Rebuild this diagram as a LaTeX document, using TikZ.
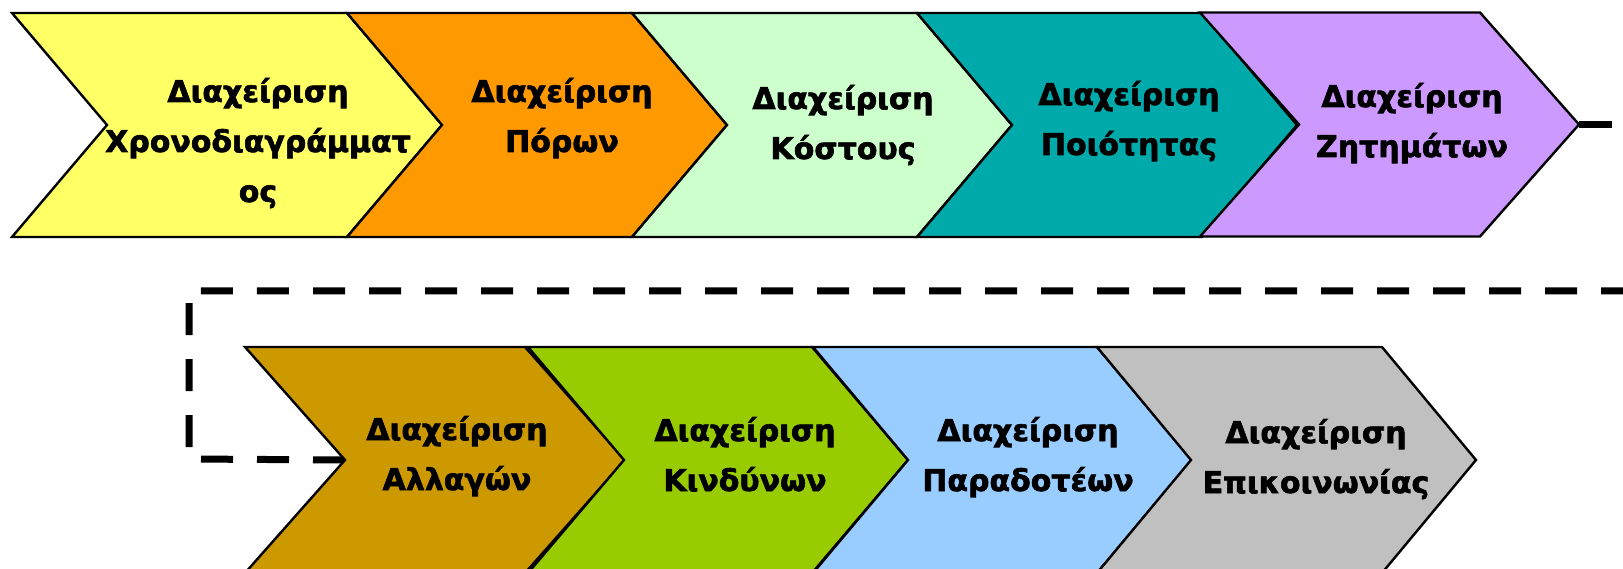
\documentclass[tikz,border=0pt]{standalone}
\usepackage{fontspec}
\usetikzlibrary{backgrounds}
\newfontfamily\chevfont{DejaVu Sans}[UprightFont=*-Bold,FakeBold=2]
\definecolor{cyellow}{HTML}{FFFF66}
\definecolor{corange}{HTML}{FF9900}
\definecolor{cmint}{HTML}{CCFFCC}
\definecolor{cteal}{HTML}{00AAAA}
\definecolor{cviolet}{HTML}{CC99FF}
\definecolor{cbrown}{HTML}{CC9900}
\definecolor{clime}{HTML}{99CC00}
\definecolor{csky}{HTML}{99CCFF}
\definecolor{cgray}{HTML}{C0C0C0}
% #1 name, #2 colour, #3 left, #4 right, #5 top, #6 bottom, #7 depth
\newcommand\mychev[7]{%
  \path[chevshape,fill=#2] (#3,#5) -- (#4,#5)
    -- ({#4+#7},{(#5+#6)/2}) coordinate (#1-tip)
    -- (#4,#6) -- (#3,#6)
    -- ({#3+#7},{(#5+#6)/2}) coordinate (#1-notch) -- cycle;}
\begin{document}
\begin{tikzpicture}[x=1pt,y=-1pt,
  chevshape/.style={draw=black,line width=2.4pt,line join=miter},
  lbl/.style={font=\chevfont\fontsize{30}{50}\selectfont,align=center,anchor=base,inner sep=0pt},
  dashline/.style={line width=7pt,dash pattern=on 32pt off 24pt},
  stub/.style={line width=7pt}]
\useasboundingbox (0,0) rectangle (1623,569);
\clip (0,0) rectangle (1623,569);
% top row
\mychev{c1}{cyellow}{12}{347}{13}{237}{95}
\mychev{c2}{corange}{347}{632}{13}{237}{95}
\mychev{c3}{cmint}{632}{917}{13}{237}{95}
\mychev{c4}{cteal}{917}{1202}{13}{237}{95}
\mychev{c5}{cviolet}{1200}{1480}{12.5}{236.5}{99}
% bottom row
\mychev{c6}{cbrown}{245}{525}{347}{573}{100}
\mychev{c7}{clime}{528}{812}{347}{573}{96}
\mychev{c8}{csky}{813}{1097}{347}{573}{95}
\mychev{c9}{cgray}{1097}{1382}{347}{573}{94}
% connectors
\coordinate (stubend) at (1612,124.5);
\draw[stub] (c5-tip) -- (stubend);
\coordinate (dcorner1) at (189,459);
\coordinate (dcorner2) at (189,291);
\coordinate (dend) at (1640,291);
\begin{scope}[on background layer]
\draw[dashline] (c6-notch) -- (dcorner1) -- (dcorner2) -- (dend);
\end{scope}
% labels (anchored at the baseline of the last line)
\node[lbl] (t1) at (258,202) {Διαχείριση\\Χρονοδιαγράμματ\\ος};
\node[lbl] (t2) at (562,152) {Διαχείριση\\Πόρων};
\node[lbl] (t3) at (843,159) {Διαχείριση\\Κόστους};
\node[lbl] (t4) at (1129,155) {Διαχείριση\\Ποιότητας};
\node[lbl] (t5) at (1412,157) {Διαχείριση\\Ζητημάτων};
\node[lbl] (t6) at (457,490) {Διαχείριση\\Αλλαγών};
\node[lbl] (t7) at (745,491) {Διαχείριση\\Κινδύνων};
\node[lbl] (t8) at (1028,491) {Διαχείριση\\Παραδοτέων};
\node[lbl] (t9) at (1316,493) {Διαχείριση\\Επικοινωνίας};
\end{tikzpicture}
\end{document}
